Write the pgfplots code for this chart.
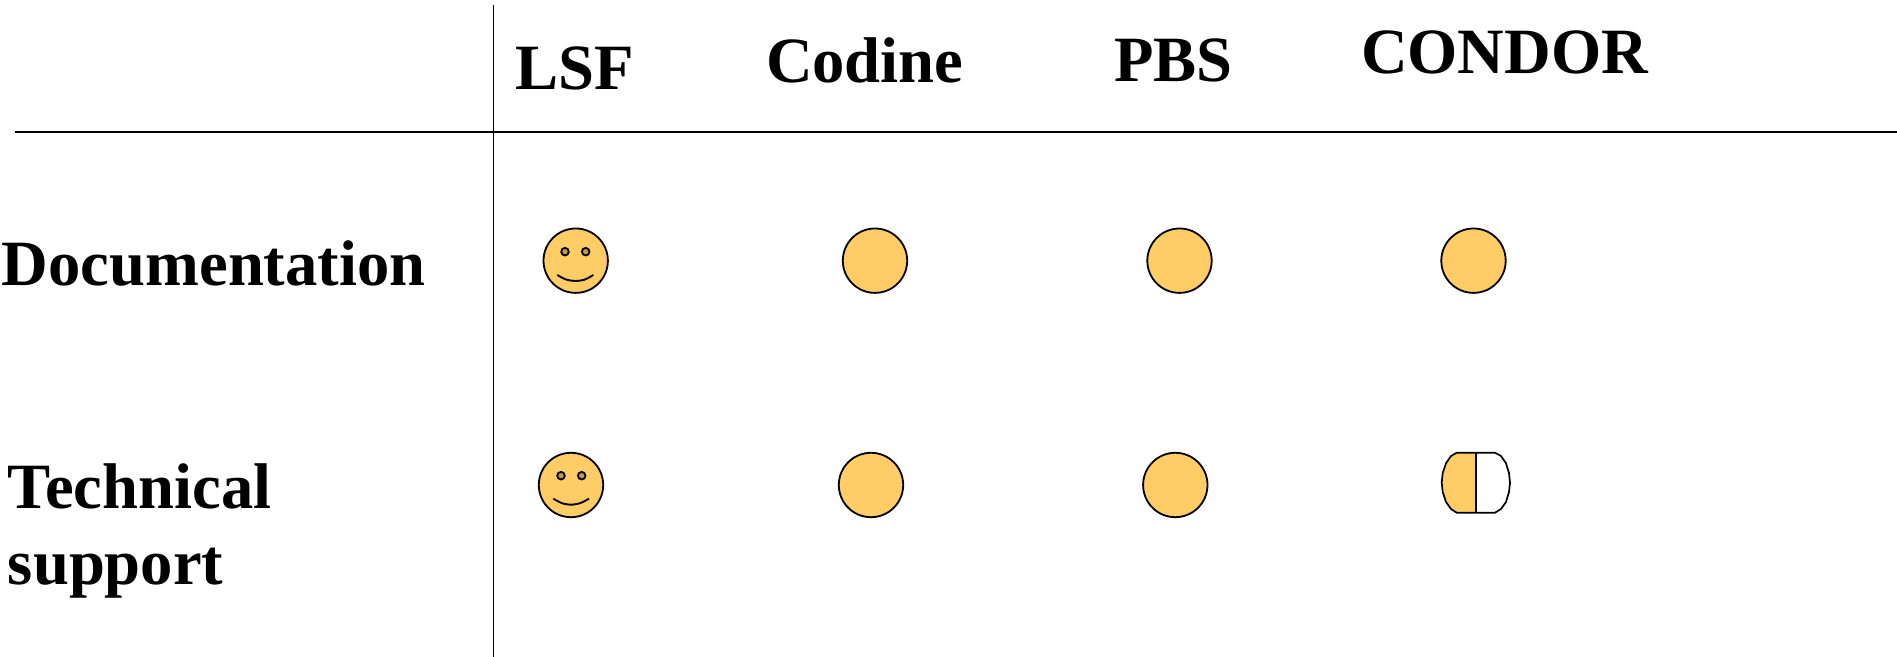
\documentclass[border=0pt]{standalone}
\usepackage{pgfplots}
\pgfplotsset{compat=1.18}
\usepackage{fontspec}
\setmainfont{Liberation Serif}
\definecolor{smile}{HTML}{FFCC66}
\tikzset{lbl/.style={font=\bfseries\fontsize{32.3}{34}\selectfont, anchor=base west, inner sep=0pt, outer sep=0pt, text=black}}
\begin{document}
\begin{tikzpicture}
\begin{axis}[
  name=a, scale only axis, width=948.5pt, height=328.5pt,
  xmin=0, xmax=1897, ymin=0, ymax=657, y dir=reverse,
  hide axis, clip=false, clip mode=global, set layers=standard,
]
% rules
\addplot[black, line width=0.85pt] coordinates {(493.6,5) (493.6,657)};
\addplot[black, line width=0.85pt] coordinates {(15,132) (1897,132)};
% full circles
\addplot[only marks, mark=*, mark size=16.1pt, mark options={fill=smile, draw=black, line width=0.9pt}]
  coordinates {(575.7,260.7) (875,260.7) (1179.5,260.7) (1473.5,260.7)
               (571,485) (871,485) (1175.3,485)};
% eyes
\addplot[only marks, mark=*, mark size=1.9pt, mark options={fill=smile!75!black, draw=black, line width=0.9pt}]
  coordinates {(565,251.7) (585.7,251.7) (561,475.7) (581.7,475.7)};
% mouths
\addplot[on layer=axis foreground, black, line width=0.95pt, smooth] coordinates {(557.3,275) (566,279.5) (575.7,281) (585,279.5) (593.3,275)};
\addplot[on layer=axis foreground, black, line width=0.95pt, smooth] coordinates {(553.3,498.7) (562,503.2) (571,504.7) (580,503.2) (589,498.7)};
% half circle
\addplot[draw=black, fill=smile, line width=0.85pt] coordinates {
 (1475.7,452.7) (1456.7,452.7) (1451,456) (1446,463.3) (1442.7,473) (1441.7,482.7)
 (1442.7,492) (1446,502) (1451,509) (1456.7,512.7) (1475.7,512.7)};
\addplot[draw=black, fill=white, line width=0.85pt] coordinates {
 (1475.7,452.7) (1495,452.7) (1501,456) (1506,463.3) (1509,473) (1510,482.7)
 (1509,492) (1506,502) (1501,509) (1495,512.7) (1475.7,512.7)};
\addplot[black, line width=1.2pt] coordinates {(1475.7,452.7) (1475.7,512.7)};
% text
\node[lbl] at (axis cs:515,89.5) {LSF};
\node[lbl] at (axis cs:766,82.5) {Codine};
\node[lbl] at (axis cs:1114,81.5) {PBS};
\node[lbl] at (axis cs:1361,74) {CONDOR};
\node[lbl] at (axis cs:2,286) {Documentation};
\node[lbl] at (axis cs:8,509) {Technical};
\node[lbl] at (axis cs:8,585) {support};
\end{axis}
\pgfresetboundingbox
\path (a.south west) rectangle (a.north east);
\end{tikzpicture}
\end{document}
